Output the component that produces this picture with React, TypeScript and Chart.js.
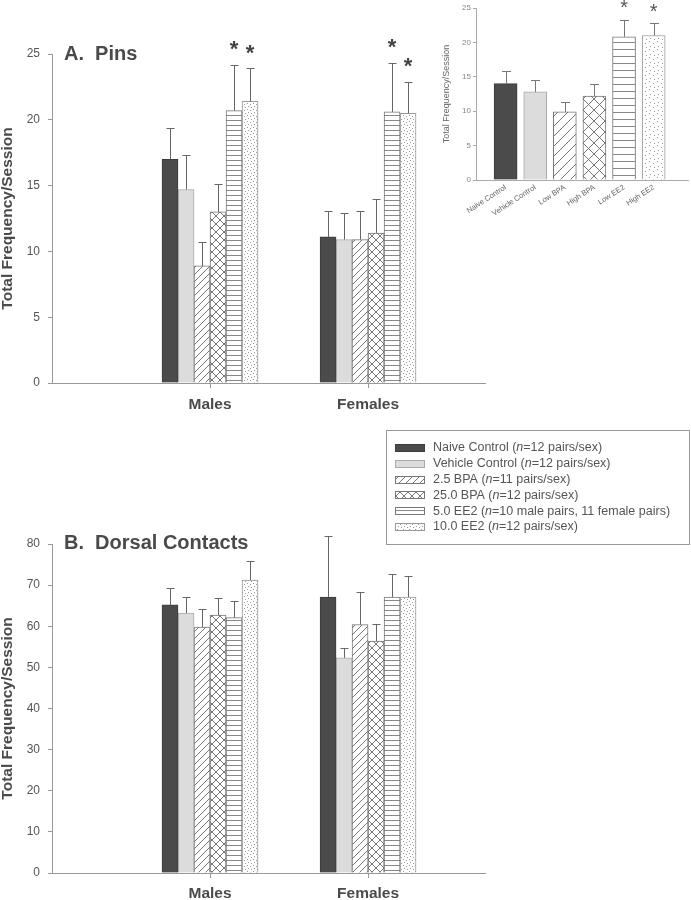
import React, { useEffect, useRef } from 'react';
import { Chart, registerables } from 'chart.js';
Chart.register(...registerables);

const FONT = '"Liberation Sans", Arial, Helvetica, sans-serif';

// ---------- data ----------
const groups = ['Males', 'Females'];
const treatments = ['Naive Control', 'Vehicle Control', '2.5 BPA', '25.0 BPA', '5.0 EE2', '10.0 EE2'];
const legendCounts = ['=12 pairs/sex', '=12 pairs/sex', '=11 pairs/sex', '=12 pairs/sex', '=10 male pairs, 11 female pairs', '=12 pairs/sex'];

// Panel A (Pins): [Males, Females] for each treatment
const pinsMeans = [[17.0, 11.1], [14.7, 10.9], [8.9, 10.9], [13.0, 11.4], [20.7, 20.6], [21.4, 20.5]];
const pinsSem = [[2.4, 2.0], [2.6, 2.0], [1.8, 2.2], [2.1, 2.6], [3.5, 3.7], [2.5, 2.4]];
const pinsSig = [[false, false], [false, false], [false, false], [false, false], [true, true], [true, true]];

// Panel B (Dorsal Contacts)
const dorsalMeans = [[65.2, 67.1], [63.2, 52.3], [59.8, 60.4], [62.7, 56.4], [62.1, 67.1], [71.2, 67.1]];
const dorsalSem = [[4.2, 14.9], [3.9, 2.5], [4.4, 8.0], [4.2, 4.1], [4.0, 5.6], [4.7, 5.2]];
const dorsalSig = [[false, false], [false, false], [false, false], [false, false], [false, false], [false, false]];

// Inset (sexes combined)
const insetLabels = ['Naive Control', 'Vehicle Control', 'Low BPA', 'High BPA', 'Low EE2', 'High EE2'];
const insetMeans = [14.0, 12.8, 9.9, 12.2, 20.8, 21.0];
const insetSem = [1.8, 1.7, 1.4, 1.7, 2.5, 1.8];
const insetSig = [false, false, false, false, true, true];

// ---------- fills ----------
function makeFill(kind: number, s: number): any {
  if (kind === 0) return '#4b4b4b';
  if (kind === 1) return '#dcdcdc';
  const c = document.createElement('canvas');
  let g: CanvasRenderingContext2D;
  if (kind === 2) {
    const n = Math.round(7 * s);
    c.width = n; c.height = n;
    g = c.getContext('2d')!;
    g.fillStyle = '#fff'; g.fillRect(0, 0, n, n);
    g.strokeStyle = '#666'; g.lineWidth = 0.9;
    g.beginPath();
    g.moveTo(-1, n + 1); g.lineTo(n + 1, -1);
    g.moveTo(-1, 1); g.lineTo(1, -1);
    g.moveTo(n - 1, n + 1); g.lineTo(n + 1, n - 1);
    g.stroke();
  } else if (kind === 3) {
    const n = Math.round(8 * s);
    c.width = n; c.height = n;
    g = c.getContext('2d')!;
    g.fillStyle = '#fff'; g.fillRect(0, 0, n, n);
    g.strokeStyle = '#666'; g.lineWidth = 0.9;
    g.beginPath();
    g.moveTo(-1, n + 1); g.lineTo(n + 1, -1);
    g.moveTo(-1, -1); g.lineTo(n + 1, n + 1);
    g.stroke();
  } else if (kind === 4) {
    const h = Math.round(5.3 * s);
    c.width = 4; c.height = h;
    g = c.getContext('2d')!;
    g.fillStyle = '#fff'; g.fillRect(0, 0, 4, h);
    g.fillStyle = '#888'; g.fillRect(0, 0, 4, 1);
  } else {
    const n = Math.round(6 * s);
    c.width = n; c.height = n;
    g = c.getContext('2d')!;
    g.fillStyle = '#fff'; g.fillRect(0, 0, n, n);
    g.fillStyle = '#999';
    g.fillRect(1, 1, 1, 1);
    g.fillRect(Math.round(n * 0.6), Math.round(n * 0.35), 1, 1);
    g.fillRect(Math.round(n * 0.25), Math.round(n * 0.7), 1, 1);
    g.fillRect(Math.round(n * 0.8), Math.round(n * 0.85), 1, 1);
  }
  return g.createPattern(c, 'repeat');
}
const borders = ['#3c3c3c', '#aaaaaa', '#777', '#777', '#777', '#999'];

// ---------- plugins ----------
const errorBarPlugin = {
  id: 'errbars',
  afterDatasetsDraw(chart: any, _a: any, opts: any) {
    const ctx = chart.ctx;
    const ys = chart.scales.y;
    ctx.save();
    chart.data.datasets.forEach((ds: any, i: number) => {
      const meta = chart.getDatasetMeta(i);
      meta.data.forEach((bar: any, j: number) => {
        const raw = ds.data[j];
        const mean = typeof raw === 'number' ? raw : raw.y;
        const top = ys.getPixelForValue(mean + ds.sem[j]);
        const xs = Math.round(bar.x) + 0.5;
        const ts = Math.round(top) + 0.5;
        ctx.strokeStyle = opts.color;
        ctx.lineWidth = 1;
        ctx.beginPath();
        ctx.moveTo(xs, bar.y);
        ctx.lineTo(xs, ts);
        ctx.moveTo(xs - opts.cap, ts);
        ctx.lineTo(xs + opts.cap, ts);
        ctx.stroke();
        if (ds.sig && ds.sig[j]) {
          ctx.fillStyle = opts.starColor;
          ctx.font = opts.starFont;
          ctx.textAlign = 'center';
          ctx.textBaseline = 'middle';
          ctx.fillText('*', bar.x, top - opts.starOffset);
        }
      });
    });
    ctx.restore();
  },
};

const panelTitlePlugin = {
  id: 'panelTitle',
  afterDraw(chart: any, _a: any, opts: any) {
    if (!opts || !opts.text) return;
    const ctx = chart.ctx;
    ctx.save();
    ctx.fillStyle = '#4a4a4a';
    ctx.font = `bold 20px ${FONT}`;
    ctx.textAlign = 'left';
    ctx.textBaseline = 'middle';
    ctx.fillText(opts.text, opts.x, opts.y);
    ctx.restore();
  },
};

const legendBoxPlugin = {
  id: 'legendBox',
  afterDraw(chart: any, _a: any, opts: any) {
    if (!opts || !opts.show) return;
    const ctx = chart.ctx;
    ctx.save();
    ctx.strokeStyle = '#999';
    ctx.lineWidth = 1;
    ctx.strokeRect(386.5, 10.5, 303, 114);
    treatments.forEach((t, i) => {
      const cy = 28 + i * 15.8;
      ctx.fillStyle = makeFill(i, 1);
      ctx.fillRect(395, Math.round(cy - 4), 30, 8);
      ctx.strokeStyle = borders[i];
      ctx.strokeRect(395.5, Math.round(cy - 4) + 0.5, 29, 7);
      ctx.fillStyle = '#555';
      ctx.textBaseline = 'middle';
      ctx.textAlign = 'left';
      let x = 433;
      const normal = `12.5px ${FONT}`;
      const ital = `italic 12.5px ${FONT}`;
      const parts: [string, string][] = [[t + ' (', normal], ['n', ital], [legendCounts[i] + ')', normal]];
      parts.forEach(([s, f]) => {
        ctx.font = f;
        ctx.fillText(s, x, cy);
        x += ctx.measureText(s).width;
      });
    });
    ctx.restore();
  },
};

// ---------- configs ----------
function groupedConfig(means: number[][], sems: number[][], sigs: boolean[][], yMax: number, step: number,
  padTop: number, padRight: number, xHeight: number, labelPad: number, title: string, titleY: number, legend: boolean): any {
  return {
    type: 'bar',
    data: {
      datasets: treatments.map((t, i) => ({
        label: t,
        data: groups.map((_, j) => ({ x: j + 1, y: means[i][j] })),
        sem: sems[i],
        sig: sigs[i],
        backgroundColor: makeFill(i, 1),
        borderColor: borders[i],
        borderWidth: 1,
        barThickness: 16,
      })),
    },
    options: {
      responsive: false,
      animation: false,
      layout: { padding: { top: padTop, right: padRight, bottom: 0, left: 0 } },
      plugins: {
        legend: { display: false },
        tooltip: { enabled: false },
        errbars: { color: '#666', cap: 4, starColor: '#444', starFont: `bold 22px ${FONT}`, starOffset: 15 },
        panelTitle: { text: title, x: 64, y: titleY },
        legendBox: { show: legend },
      },
      scales: {
        x: {
          type: 'linear', min: 0, max: 2.74, offset: false,
          afterBuildTicks: (s: any) => { s.ticks = groups.map((_, i) => ({ value: i + 1 })); },
          afterFit: (s: any) => { s.height = xHeight; },
          ticks: {
            callback: (v: any) => groups[Math.round(v) - 1] ?? '',
            font: { family: FONT, size: 15.5, weight: 'bold' },
            color: '#4a4a4a', padding: labelPad, maxRotation: 0, autoSkip: false,
          },
          grid: { drawOnChartArea: false, offset: false, tickLength: 5, color: '#999' },
          border: { color: '#999' },
        },
        y: {
          min: 0, max: yMax,
          afterFit: (s: any) => { s.width = 52; },
          ticks: { stepSize: step, font: { family: FONT, size: 12 }, color: '#555', padding: 8 },
          grid: { drawOnChartArea: false, tickLength: 4, color: '#999' },
          border: { color: '#999' },
          title: {
            display: true, text: 'Total Frequency/Session', color: '#4a4a4a', padding: 0,
            font: { family: FONT, size: 15.5, weight: 'bold', lineHeight: 1 },
          },
        },
      },
    },
    plugins: [errorBarPlugin, panelTitlePlugin, legendBoxPlugin],
  };
}

function insetConfig(): any {
  return {
    type: 'bar',
    data: {
      datasets: [{
        label: 'Pins (sexes combined)',
        data: insetLabels.map((_, i) => ({ x: i + 1, y: insetMeans[i] })),
        sem: insetSem,
        sig: insetSig,
        backgroundColor: insetLabels.map((_, i) => makeFill(i, 1.4)),
        borderColor: borders,
        borderWidth: 1,
        barThickness: 23,
      }],
    },
    options: {
      responsive: false,
      animation: false,
      layout: { padding: { top: 8, right: 3, bottom: 0, left: 0 } },
      plugins: {
        legend: { display: false },
        tooltip: { enabled: false },
        errbars: { color: '#777', cap: 4.5, starColor: '#555', starFont: `20px ${FONT}`, starOffset: 11 },
      },
      scales: {
        x: {
          type: 'linear', min: 0, max: 7.16, offset: false,
          afterBuildTicks: (s: any) => { s.ticks = insetLabels.map((_, i) => ({ value: i + 1 })); },
          afterFit: (s: any) => { s.height = 35; },
          ticks: {
            callback: (v: any) => insetLabels[Math.round(v) - 1] ?? '',
            font: { family: FONT, size: 7.5 }, color: '#666', padding: 3,
            minRotation: 33, maxRotation: 33, autoSkip: false,
          },
          grid: { drawOnChartArea: false, drawTicks: false, offset: false, color: '#aaa' },
          border: { color: '#aaa' },
        },
        y: {
          min: 0, max: 25,
          afterFit: (s: any) => { s.width = 36; },
          ticks: { stepSize: 5, font: { family: FONT, size: 8 }, color: '#888', padding: 2 },
          grid: { drawOnChartArea: false, tickLength: 3, color: '#aaa' },
          border: { color: '#aaa' },
          title: {
            display: true, text: 'Total Frequency/Session', color: '#666', padding: 2,
            font: { family: FONT, size: 9, lineHeight: 1 },
          },
        },
      },
    },
    plugins: [errorBarPlugin],
  };
}

export default function App() {
  const aRef = useRef<HTMLCanvasElement>(null);
  const bRef = useRef<HTMLCanvasElement>(null);
  const iRef = useRef<HTMLCanvasElement>(null);

  useEffect(() => {
    const charts = [
      new Chart(bRef.current!, groupedConfig(dorsalMeans, dorsalSem, dorsalSig, 80, 10, 124, 206, 27, 6, 'B.  Dorsal Contacts', 123, true)),
      new Chart(aRef.current!, groupedConfig(pinsMeans, pinsSem, pinsSig, 25, 5, 54, 15, 37, 7, 'A.  Pins', 54, false)),
      new Chart(iRef.current!, insetConfig()),
    ];
    return () => charts.forEach((c) => c.destroy());
  }, []);

  return (
    <div style={{ position: 'absolute', left: 0, top: 0, width: 691, height: 900, background: '#fff' }}>
      <canvas ref={bRef} width={691} height={480} style={{ position: 'absolute', left: 0, top: 420, width: 691, height: 480 }} />
      <canvas ref={aRef} width={500} height={420} style={{ position: 'absolute', left: 0, top: 0, width: 500, height: 420 }} />
      <canvas ref={iRef} width={251} height={215} style={{ position: 'absolute', left: 440, top: 0, width: 251, height: 215 }} />
    </div>
  );
}
